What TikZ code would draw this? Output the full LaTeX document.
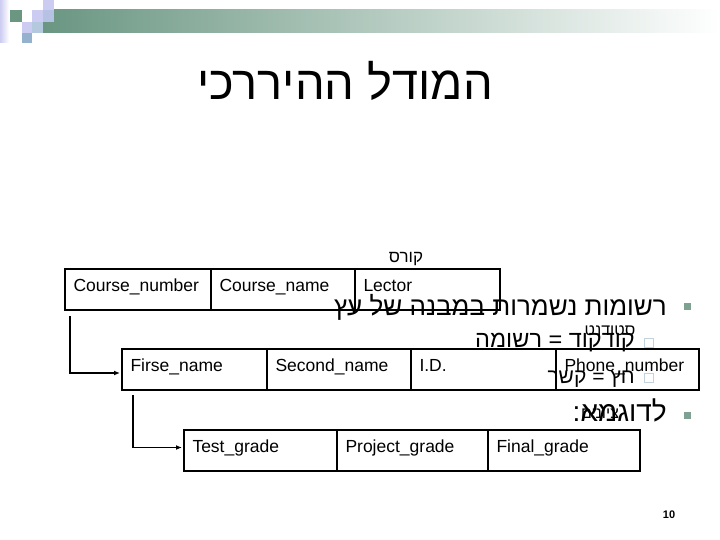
\documentclass[tikz,border=0pt]{standalone}
\usepackage{fontspec}
\setmainfont{Liberation Sans}
\newfontfamily\hebfont[Script=Hebrew]{Liberation Sans}
\TeXXeTstate=1
\usetikzlibrary{arrows.meta,positioning}

\definecolor{bargreen}{RGB}{106,150,130}
\definecolor{bulletgreen}{RGB}{125,162,146}
\definecolor{lav}{RGB}{204,204,242}
\definecolor{steel}{RGB}{148,178,206}
\definecolor{hollowblue}{RGB}{196,210,222}

\tikzset{
    cell/.style={draw, line width=1pt, anchor=north west, minimum height=40pt,
        inner xsep=8pt, inner ysep=0pt, text width=#1, align=left,
        text height=12pt, text depth=8pt, font=\fontsize{17.5}{19}\selectfont},
    frame/.style={line width=2pt},
    conn/.style={line width=1.3pt, -{Latex[length=6pt,width=5pt]}, shorten >=2pt},
    heb/.style={font=\hebfont\fontsize{#1}{#1}\selectfont, inner sep=0pt},
    fullbullet/.style={fill=bulletgreen, minimum size=7pt, inner sep=0pt},
    hollowbullet/.style={draw=hollowblue, line width=1pt, minimum size=9pt, inner sep=0pt},
}

\begin{document}
\begin{tikzpicture}[x=1pt,y=-1pt]
        \useasboundingbox (0,0) rectangle (720,540);
        %% Header
        \shade[left color=bargreen, right color=white] (43,10) rectangle (720,33);
        \shade[left color=lav, right color=white] (0,0) rectangle (9,43);
        \fill[lav] (43,0) rectangle (54,10);
        \fill[bargreen] (10,10) rectangle (22,22);
        \fill[lav] (32,10) rectangle (43,22);
        \fill[lav!60!steel] (43,10) rectangle (54,22);
        \fill[lav] (22,22) rectangle (32,33);
        \fill[steel!70] (32,22) rectangle (43,33);
        \fill[steel] (22,33) rectangle (32,43);
        \node[heb=47] (title) at (345,81) {\beginR המודל ההיררכי\endR};

        %% Bullets
        \node[fullbullet] (b1) at (687,306) {};
        \node[heb=26, anchor=base east] (t1) at (667,315) {\beginR רשומות נשמרות במבנה של עץ\endR};
        \node[hollowbullet] (b2) at (649,343) {};
        \node[heb=23.5, anchor=base east] (t2) at (635,347) {\beginR קודקוד = רשומה\endR};
        \node[hollowbullet] (b3) at (649,378) {};
        \node[heb=21, anchor=base east] (t3) at (635,383) {\beginR חץ = קשר\endR};
        \node[fullbullet] (b4) at (687,415) {};
        \node[heb=28, anchor=base east] (t4) at (667,421) {\beginR לדוגמא:\endR};

        %% Course
        \node[heb=17, anchor=base] (lcourse) at (406,262) {\beginR קורס\endR};
        \node[cell=129pt] (cnum) at (65,269) {Course\_number};
        \node[cell=127pt, right=0pt of cnum] (cname) {Course\_name};
        \node[cell=128pt, right=0pt of cname] (lector) {Lector};
        \draw[frame] (cnum.north west) rectangle (lector.south east);

        %% Student
        \node[heb=16, anchor=base] (lstudent) at (610,335) {\beginR סטודנט\endR};
        \node[cell=128pt] (fname) at (122,349) {Firse\_name};
        \node[cell=127pt, right=0pt of fname] (sname) {Second\_name};
        \node[cell=128pt, right=0pt of sname] (sid) {I.D.};
        \node[cell=126pt, right=0pt of sid] (phone) {Phone\_number};
        \draw[frame] (fname.north west) rectangle (phone.south east);

        %% Grades
        \node[heb=16, anchor=base] (lgrades) at (600,418) {\beginR ציונים\endR};
        \node[cell=136pt] (tgrade) at (184,430) {Test\_grade};
        \node[cell=134pt, right=0pt of tgrade] (pgrade) {Project\_grade};
        \node[cell=135pt, right=0pt of pgrade] (fgrade) {Final\_grade};
        \draw[frame] (tgrade.north west) rectangle (fgrade.south east);

        %% Links
        \draw[conn] ([xshift=5pt,yshift=-6pt]cnum.south west) |- ([yshift=-3.5pt]fname.west);
        \draw[conn] ([xshift=11pt,yshift=-5pt]fname.south west) |- ([yshift=3pt]tgrade.west);

        %% Page number
        \node[font=\bfseries\fontsize{11}{12}\selectfont] (page) at (669,515) {10};
\end{tikzpicture}
\end{document}
